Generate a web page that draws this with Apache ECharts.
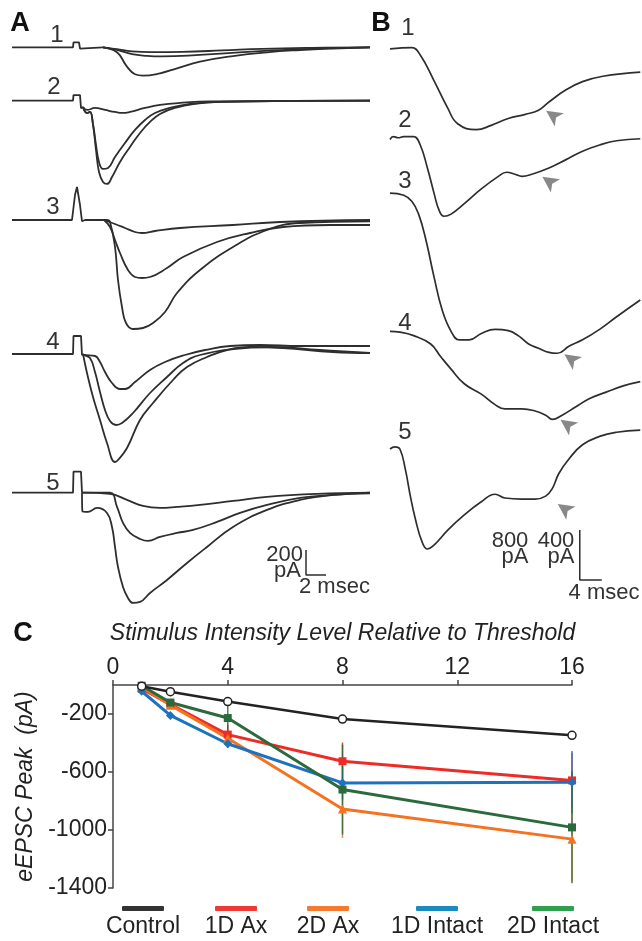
<!DOCTYPE html>
<html>
<head>
<meta charset="utf-8">
<script src="https://cdn.jsdelivr.net/npm/echarts@6.0.0/dist/echarts.min.js"></script>
<style>
  html, body { margin: 0; padding: 0; background: #fff; }
  #chart { width: 642px; height: 941px; }
</style>
</head>
<body>
<div id="chart"></div>
<script>
// ---------- panel A: evoked currents (time in msec, current in pA), 3 sweeps per level
const a1Artifact = [[0, 0], [6.1, 0], [6.15, 40], [6.7, 40], [6.8, -10], [7.0, 0], [9.1, 0]]
const a1Sweeps = [
  [[9.1, 0], [10.5, -40], [11.5, -155], [12.3, -216], [13.1, -227], [14.8, -208], [16.5, -168], [18.8, -115], [22.1, -70], [25.5, -40], [28.8, -22], [32, -10], [35.8, 0]],
  [[9.1, 0], [10.5, -20], [12, -55], [13.5, -68], [15, -72], [18, -65], [22, -45], [26, -25], [30, -12], [35.8, 0]],
  [[9.1, 0], [10.5, -15], [12, -32], [14, -38], [17, -36], [21, -25], [25, -12], [30, -4], [35.8, 0]],
]
const a2Artifact = [[0, 0], [6.1, 0], [6.15, 45], [6.8, 45], [6.9, -60], [7.1, -50]]
const a2Sweeps = [
  [[7.1, -50], [7.5, -98], [7.8, -90], [8.1, -194], [8.4, -394], [8.7, -570], [9.1, -650], [9.5, -666], [10, -610], [10.8, -490], [11.8, -370], [12.8, -258], [13.8, -170], [14.8, -106], [16.3, -58], [18.3, -26], [20.8, -10], [35.8, 0]],
  [[7.1, -50], [7.5, -98], [7.8, -90], [8.1, -186], [8.4, -354], [8.7, -490], [9.1, -546], [9.6, -538], [10.3, -450], [11.3, -338], [12.3, -234], [13.3, -154], [14.3, -98], [15.8, -58], [17.8, -26], [20.8, -10], [35.8, 0]],
  [[7.1, -50], [7.5, -74], [8.3, -58], [9.3, -74], [10.3, -90], [11, -98], [11.8, -90], [13.3, -58], [14.8, -34], [16.8, -18], [19.8, -6], [35.8, 0]],
]
const a3Artifact = [[0, 0], [6.0, 0], [6.3, 200], [6.5, 265], [6.8, 120], [7.0, -10], [7.3, 0], [9.2, 0]]
const a3Sweeps = [
  [[9.2, 0], [9.5, 0], [9.8, -16], [10.3, -216], [10.6, -480], [11, -696], [11.4, -824], [12.1, -872], [13.1, -864], [14.1, -824], [15.3, -736], [16.5, -584], [18.8, -400], [22.1, -216], [25.5, -80], [28.8, -24], [35.8, -10]],
  [[9.2, 0], [9.8, -56], [10.3, -160], [10.8, -264], [11.6, -400], [12.3, -456], [13, -464], [13.8, -456], [15.5, -384], [17.1, -296], [20.5, -176], [23.8, -104], [27.1, -56], [31.8, -40], [35.8, -40]],
  [[9.2, 0], [10.3, -32], [11.3, -64], [12.3, -96], [13, -104], [14.3, -88], [16.8, -64], [22.1, -40], [26.8, -16], [35.8, 0]],
]
const a4Artifact = [[0, 0], [6.1, 0], [6.15, 144], [6.9, 144], [7.0, -10], [7.1, 0]]
const a4Sweeps = [
  [[7.1, 0], [7.5, -152], [8.1, -344], [8.8, -528], [9.5, -712], [10.3, -864], [10.6, -848], [11.5, -752], [12.8, -528], [14.1, -392], [16.1, -208], [17.5, -104], [19.5, -24], [21.5, 32], [23.8, 56], [27.1, 48], [32.1, 16], [35.8, 8]],
  [[7.1, 0], [7.2, -8], [7.8, -32], [8.3, -144], [8.8, -304], [9.3, -448], [9.8, -536], [10.4, -568], [11, -552], [12.1, -472], [13.8, -312], [15.5, -184], [17.1, -72], [18.8, -8], [22.1, 40], [25.8, 56], [30.8, 32], [35.8, 8]],
  [[7.1, 0], [7.2, -8], [8.3, -16], [8.8, -64], [9.3, -144], [10, -232], [10.8, -280], [11.3, -280], [12.3, -224], [13.8, -128], [15.3, -64], [17.3, -8], [19.3, 32], [21.8, 64], [24.8, 72], [28.8, 64], [35.8, 64]],
]
const a5Artifact = [[0, 0], [6.1, 0], [6.15, 168], [6.9, 168], [7.0, 0]]
const a5Sweeps = [
  [[7.0, 0], [7.05, -150], [7.6, -154], [8.5, -122], [9.5, -162], [10, -274], [10.3, -434], [10.6, -594], [11.1, -754], [11.6, -842], [12.1, -882], [12.8, -874], [13.8, -802], [15.5, -698], [17.5, -562], [19.5, -434], [22.1, -274], [25.5, -138], [28.8, -58], [32.1, -18], [35.8, -5]],
  [[7.0, 0], [9.8, 0], [10.5, -114], [11.1, -242], [11.8, -322], [12.8, -370], [13.6, -386], [14.8, -354], [16.5, -322], [18.1, -298], [20.5, -234], [22.8, -162], [25.5, -98], [28.8, -42], [32.1, -18], [35.8, 0]],
  [[7.0, 0], [9.8, -10], [11.5, -58], [13.1, -106], [14.8, -122], [16.5, -114], [18.8, -98], [22.1, -66], [25.5, -34], [30.5, -10], [35.8, 0]],
]
const aScaleBar = [[29.4, -458], [29.4, -658], [31.4, -658]] // 200 pA, 2 msec

// ---------- panel B: single sweeps at each level (msec, pA)
const b1Trace = [[0, 0], [4, 10], [5.5, -50], [7.9, -251], [10.5, -485], [12.3, -613], [15.7, -661], [18.4, -626], [21.5, -570], [24.6, -536], [27, -502], [28.9, -435], [32, -335], [35, -268], [38.7, -224], [45.5, -191]]
const b2Trace = [[0, 0], [0.6, 23], [1.5, 14], [2.5, 23], [4.3, 23], [5.5, -44], [6.8, -228], [8, -429], [8.9, -563], [9.8, -614], [11.1, -597], [13.5, -513], [16.6, -395], [19.7, -295], [21.2, -262], [22.7, -278], [24, -295], [25.8, -278], [28.9, -228], [32, -161], [35, -94], [38.1, -44], [41.2, -10], [45.5, 6]]
const b3Trace = [[0, 0], [2.5, -17], [4, -67], [5.2, -168], [6.5, -369], [8, -670], [9.5, -938], [11.1, -1106], [12.6, -1174], [14.4, -1174], [16.6, -1123], [19.1, -1090], [21.5, -1100], [23.3, -1140], [25.2, -1207], [27, -1241], [28.9, -1274], [30.4, -1281], [32.6, -1223], [35, -1174], [38.1, -1090], [41.2, -989], [45.5, -855]]
const b4Trace = [[0, 0], [1.8, -6], [4.3, -34], [7.4, -101], [9.2, -201], [11.1, -302], [13.5, -419], [16.6, -502], [19.1, -586], [20.9, -620], [24, -620], [26.4, -637], [28.3, -670], [29.5, -704], [31.3, -670], [33.8, -603], [36.3, -536], [39.3, -486], [42.4, -436], [45.5, -402]]
const b5Trace = [[0, 0], [0.9, 17], [1.8, 0], [2.8, -165], [3.7, -377], [4.6, -558], [5.8, -739], [6.8, -800], [8, -769], [10.5, -649], [13.5, -527], [16.6, -422], [19.1, -362], [20.9, -392], [24, -401], [26.4, -401], [28.3, -377], [29.5, -317], [30.7, -196], [32.6, -76], [35, 34], [38.1, 101], [41.2, 134], [45.5, 151]]
const bArrows = [[28.4, -506], [27.7, -298], [31.7, -1290], [31.0, -707], [30.5, -440]]
const bScaleBar = [[34.5, -648], [34.5, -1048], [38.5, -1048]] // 400 pA, 4 msec

// ---------- panel C: eEPSC peak vs stimulus intensity
const stimLevels = [1, 2, 4, 8, 16]
const controlPeak = [-8, -46, -114, -235, -347]
const ax1dPeak = [-25, -134, -342, -526, -658]
const ax2dPeak = [-13, -139, -367, -855, -1063]
const intact1dPeak = [-43, -210, -405, -675, -670]
const intact2dPeak = [-5, -121, -228, -721, -982]
const controlErr = [8, 10, 15, 15, 15]
const ax1dErr = [10, 20, 70, 130, 190]
const ax2dErr = [10, 20, 40, 200, 290]
const intact1dErr = [10, 20, 30, 115, 215]
const intact2dErr = [10, 25, 100, 310, 385]
const stimTicks = [0, 4, 8, 12, 16]
const peakTicks = [-200, -600, -1000, -1400]
const groupNames = ['Control', '1D Ax', '2D Ax', '1D Intact', '2D Intact']

const FONT = '"Liberation Sans", Arial, Helvetica, sans-serif'
const TRACE = '#2e2e2e'

const baseA = [47.3, 100.7, 220, 354, 492.7]
const baseB = [44.4, 139.5, 193.1, 331.4, 449]

const grids = []
const xAxes = []
const yAxes = []
const series = []

baseA.forEach((b, i) => {
  grids.push({ left: 12, top: b - 37.5, width: 358, height: 187.5 })
  xAxes.push({ type: 'value', gridIndex: i, min: 0, max: 35.8, show: false })
  yAxes.push({ type: 'value', gridIndex: i, min: -1200, max: 300, show: false })
})
baseB.forEach((b, i) => {
  grids.push({ left: 390, top: b - 50, width: 250, height: 250 })
  xAxes.push({ type: 'value', gridIndex: 5 + i, min: 0, max: 45.45, show: false })
  yAxes.push({ type: 'value', gridIndex: 5 + i, min: -1600, max: 400, show: false })
})
const C = 10
grids.push({ left: 113, top: 685, width: 459, height: 203 })

function trace(data, idx, smooth, width) {
  return {
    type: 'line', xAxisIndex: idx, yAxisIndex: idx, data,
    symbol: 'none', smooth: smooth ? 0.45 : false,
    lineStyle: { color: TRACE, width: width || 1.8 }, silent: true,
  }
}

const artifactsA = [a1Artifact, a2Artifact, a3Artifact, a4Artifact, a5Artifact]
const sweepsA = [a1Sweeps, a2Sweeps, a3Sweeps, a4Sweeps, a5Sweeps]
artifactsA.forEach((art, i) => {
  series.push(trace(art, i, false))
  sweepsA[i].forEach((s) => series.push(trace(s, i, true)))
})
series.push(trace(aScaleBar, 4, false, 1.5))

const tracesB = [b1Trace, b2Trace, b3Trace, b4Trace, b5Trace]
tracesB.forEach((t, i) => {
  series.push(trace(t, 5 + i, true, 1.7))
  series.push({
    type: 'scatter', xAxisIndex: 5 + i, yAxisIndex: 5 + i, data: [bArrows[i]],
    symbol: 'arrow', symbolSize: [12, 16], symbolRotate: 55,
    itemStyle: { color: '#6a6a6a' }, silent: true,
  })
})
series.push(trace(bScaleBar, 9, false, 1.5))

// panel C axes
const axisLine = { show: true, onZero: false, lineStyle: { color: '#444', width: 1.5 } }
xAxes.push({
  type: 'value', gridIndex: C, position: 'top', min: 0, max: 16,
  axisLine, axisTick: { show: true, length: 5, customValues: stimTicks, lineStyle: { color: '#444', width: 1.5 } },
  axisLabel: { customValues: stimTicks, color: '#222', fontSize: 23, fontFamily: FONT, margin: 6 },
  splitLine: { show: false },
  name: 'Stimulus Intensity Level Relative to Threshold', nameLocation: 'middle', nameGap: 40,
  nameTextStyle: { color: '#222', fontSize: 23, fontStyle: 'italic', fontFamily: FONT },
})
yAxes.push({
  type: 'value', gridIndex: C, min: -1400, max: 0,
  axisLine, axisTick: { show: true, length: 5, customValues: peakTicks, lineStyle: { color: '#444', width: 1.5 } },
  axisLabel: { customValues: peakTicks, formatter: (v) => String(v), color: '#222', fontSize: 23, fontFamily: FONT, margin: 6 },
  splitLine: { show: false },
  name: 'eEPSC Peak  (pA)', nameLocation: 'middle', nameGap: 66,
  nameTextStyle: { color: '#222', fontSize: 23, fontStyle: 'italic', fontFamily: FONT },
})

const groups = [
  { peak: controlPeak, err: controlErr, color: '#222', legend: '#333', symbol: 'circle', size: 8, fill: '#fff', width: 2.5 },
  { peak: ax1dPeak, err: ax1dErr, color: '#ee2b24', legend: '#ee3a34', symbol: 'rect', size: 8, width: 3 },
  { peak: ax2dPeak, err: ax2dErr, color: '#f47320', legend: '#f47b30', symbol: 'triangle', size: 9, width: 3 },
  { peak: intact1dPeak, err: intact1dErr, color: '#1d72c0', legend: '#1b8bbf', symbol: 'diamond', size: 9, width: 3 },
  { peak: intact2dPeak, err: intact2dErr, color: '#2b6a3d', legend: '#2ea04f', symbol: 'rect', size: 8, width: 3 },
]

groups.forEach((g, gi) => {
  series.push({
    type: 'custom', xAxisIndex: C, yAxisIndex: C, silent: true, z: 1,
    data: stimLevels.map((x, i) => [x, g.peak[i] - g.err[i], g.peak[i] + g.err[i]]),
    renderItem(params, api) {
      const lo = api.coord([api.value(0), api.value(1)])
      const hi = api.coord([api.value(0), api.value(2)])
      return { type: 'line', shape: { x1: lo[0], y1: lo[1], x2: hi[0], y2: hi[1] }, style: { stroke: g.color, lineWidth: 1.5, opacity: 0.85 } }
    },
  })
  series.push({
    name: groupNames[gi], type: 'line', xAxisIndex: C, yAxisIndex: C, z: gi === 0 ? 4 : 3,
    data: stimLevels.map((x, i) => [x, g.peak[i]]),
    symbol: g.symbol, symbolSize: g.size, showAllSymbol: true,
    lineStyle: { color: g.color, width: g.width },
    itemStyle: g.fill ? { color: g.fill, borderColor: g.color, borderWidth: 1.5 } : { color: g.color },
    silent: true,
  })
})

function label(text, x, y, opts = {}) {
  return {
    type: 'text', x, y, silent: true,
    style: {
      text, fill: opts.fill || '#333', font: opts.font || ('24px ' + FONT),
      textAlign: opts.align || 'center', textVerticalAlign: 'middle',
    },
  }
}

const bold = 'bold 27px ' + FONT
const small = '22px ' + FONT
const graphic = [
  label('A', 20, 24, { font: bold, fill: '#111' }),
  label('B', 381, 24, { font: bold, fill: '#111' }),
  label('C', 23, 634, { font: bold, fill: '#111' }),
  label('1', 57, 35), label('2', 54, 87), label('3', 53, 207), label('4', 53, 342), label('5', 53, 483),
  label('1', 408, 28), label('2', 405, 120), label('3', 405, 181), label('4', 405, 323), label('5', 405, 432),
  label('200', 303, 555, { font: small, align: 'right' }),
  label('pA', 301, 571, { font: small, align: 'right' }),
  label('2 msec', 299, 587, { font: small, align: 'left' }),
  label('800', 510, 541, { font: small }),
  label('400', 556, 541, { font: small }),
  label('pA', 515, 557, { font: small }),
  label('pA', 561, 557, { font: small }),
  label('4 msec', 604, 593, { font: small }),
]
const legendX = [143, 236, 328, 437, 553]
groups.forEach((g, gi) => {
  graphic.push({ type: 'rect', silent: true, shape: { x: legendX[gi] - 21, y: 906, width: 42, height: 5, r: 1 }, style: { fill: g.legend } })
  graphic.push(label(groupNames[gi], legendX[gi], 927, { font: '23px ' + FONT, fill: '#222' }))
})

const chart = echarts.init(document.getElementById('chart'), null, { renderer: 'canvas' })
chart.setOption({
  animation: false,
  backgroundColor: '#fff',
  grid: grids,
  xAxis: xAxes,
  yAxis: yAxes,
  series,
  graphic,
})
</script>
</body>
</html>
